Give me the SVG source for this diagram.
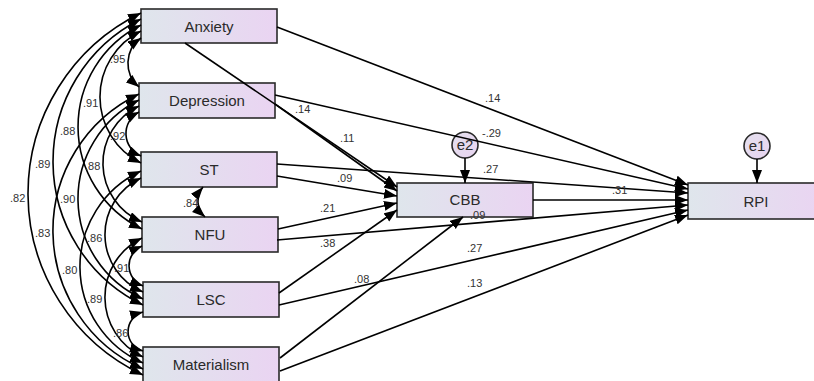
<svg xmlns="http://www.w3.org/2000/svg" width="814" height="381" viewBox="0 0 814 381">
<defs>
<linearGradient id="g" x1="0" y1="0" x2="1" y2="0">
<stop offset="0" stop-color="#dfe6ec"/>
<stop offset="1" stop-color="#ead4f2"/>
</linearGradient>
<linearGradient id="gc" x1="0" y1="0" x2="1" y2="1">
<stop offset="0" stop-color="#e4e0ee"/>
<stop offset="1" stop-color="#e8d4f0"/>
</linearGradient>
<marker id="ah" markerUnits="userSpaceOnUse" markerWidth="15" markerHeight="11" refX="13" refY="5" orient="auto-start-reverse">
<path d="M0,0 L13,5 L0,10 z" fill="#000"/>
</marker>
<style>
.box{fill:url(#g);stroke:#2a2a2a;stroke-width:1.6}
.err{fill:url(#gc);stroke:#2a2a2a;stroke-width:1.6}
.nt{font-family:"Liberation Sans",Arial,sans-serif;font-size:15px;fill:#2a2a2a;text-anchor:middle}
.el{font-family:"Liberation Sans",Arial,sans-serif;font-size:11px;fill:#333}
.ln{fill:none;stroke:#000;stroke-width:1.6;marker-end:url(#ah)}
.cv{fill:none;stroke:#000;stroke-width:1.6;marker-start:url(#ah);marker-end:url(#ah)}
</style>
</defs>
<rect width="814" height="381" fill="#fff"/>
<g id="nodes">
<g id="anxiety"><rect class="box" x="141" y="9" width="136" height="34"/><text class="nt" x="209" y="32">Anxiety</text></g>
<g id="depression"><rect class="box" x="139" y="83" width="136" height="35"/><text class="nt" x="207" y="106">Depression</text></g>
<g id="st"><rect class="box" x="141" y="152" width="136" height="35"/><text class="nt" x="209" y="175">ST</text></g>
<g id="nfu"><rect class="box" x="142" y="217" width="136" height="35"/><text class="nt" x="210" y="240">NFU</text></g>
<g id="lsc"><rect class="box" x="143" y="282" width="136" height="35"/><text class="nt" x="211" y="305">LSC</text></g>
<g id="materialism"><rect class="box" x="143" y="347" width="136" height="35"/><text class="nt" x="211" y="370">Materialism</text></g>
<g id="cbb"><rect class="box" x="397" y="183" width="136" height="34"/><text class="nt" x="465" y="205">CBB</text></g>
<g id="rpi"><rect class="box" x="688" y="183" width="136" height="36"/><text class="nt" x="756" y="207">RPI</text></g>
<g id="e2"><circle class="err" cx="465" cy="145" r="13"/><text class="nt" x="465" y="150">e2</text></g>
<g id="e1"><circle class="err" cx="757" cy="146" r="13"/><text class="nt" x="757" y="151">e1</text></g>
</g>
<g id="connectors">
<path class="ln" d="M465 158 L465 183"/>
<path class="ln" d="M757 159 L757 183"/>
<path class="ln" d="M277 27 L688 185"/>
<path class="ln" d="M275 95 L688 189"/>
<path class="ln" d="M277 164 L688 193"/>
<path class="ln" d="M533 200 L688 200"/>
<path class="ln" d="M277 240 L688 205"/>
<path class="ln" d="M279 305 L688 210"/>
<path class="ln" d="M280 371 L688 215"/>
<path class="ln" d="M185 43 L397 187"/>
<path class="ln" d="M275 104 L397 191"/>
<path class="ln" d="M277 176 L397 196"/>
<path class="ln" d="M278 229 L397 203"/>
<path class="ln" d="M279 293 L397 210"/>
<path class="ln" d="M280 358 L463 217"/>
<path class="cv" d="M141 13 A200.7 200.7 0 0 0 143 375"/>
<path class="cv" d="M141 19 A159.4 159.4 0 0 0 143 305"/>
<path class="cv" d="M141 25 A113.7 113.7 0 0 0 142 229"/>
<path class="cv" d="M141 31 A73.6 73.6 0 0 0 141 163"/>
<path class="cv" d="M141 38 A31 31 0 0 0 139 87"/>
<path class="cv" d="M139 94 A151.4 151.4 0 0 0 143 369"/>
<path class="cv" d="M139 100 A110.1 110.1 0 0 0 143 299"/>
<path class="cv" d="M139 106 A63.6 63.6 0 0 0 142 222"/>
<path class="cv" d="M139 112 A24.3 24.3 0 0 0 141 156"/>
<path class="cv" d="M141 171 A105.3 105.3 0 0 0 143 363"/>
<path class="cv" d="M141 178 A62.4 62.4 0 0 0 143 292"/>
<path class="cv" d="M142 238 A65.9 65.9 0 0 0 143 357"/>
<path class="cv" d="M142 246 A21.6 21.6 0 0 0 143 286"/>
<path class="cv" d="M143 312 A20.2 20.2 0 0 0 143 351"/>
<path class="cv" d="M203 187 A21.75 21.75 0 0 0 205 217"/>
</g>
<g id="labels">
<text class="el" x="295" y="113">.14</text>
<text class="el" x="340" y="142">.11</text>
<text class="el" x="482" y="137">-.29</text>
<text class="el" x="485" y="102">.14</text>
<text class="el" x="483" y="173">.27</text>
<text class="el" x="337" y="182">.09</text>
<text class="el" x="320" y="212">.21</text>
<text class="el" x="470" y="218.5">.09</text>
<text class="el" x="612" y="194">.31</text>
<text class="el" x="320" y="247">.38</text>
<text class="el" x="467" y="252">.27</text>
<text class="el" x="354" y="283">.08</text>
<text class="el" x="467" y="287">.13</text>
<text class="el" x="110" y="63">.95</text>
<text class="el" x="83" y="107">.91</text>
<text class="el" x="60" y="135">.88</text>
<text class="el" x="110" y="140">.92</text>
<text class="el" x="35" y="168">.89</text>
<text class="el" x="85" y="170">.88</text>
<text class="el" x="10" y="202">.82</text>
<text class="el" x="60" y="203">.90</text>
<text class="el" x="35" y="237">.83</text>
<text class="el" x="87" y="242">.86</text>
<text class="el" x="62" y="274">.80</text>
<text class="el" x="114" y="272">.91</text>
<text class="el" x="87" y="303">.89</text>
<text class="el" x="113" y="337">.86</text>
<text class="el" x="183" y="207">.84</text>
</g>
</svg>
